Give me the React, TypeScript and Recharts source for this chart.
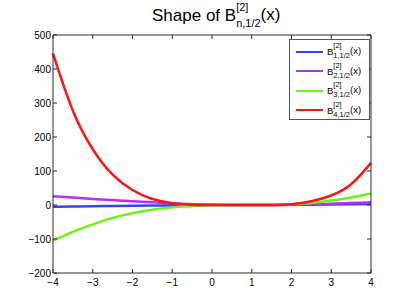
import React from 'react'
import { LineChart, Line, XAxis, YAxis, Legend } from 'recharts'

// sample positions along x
const xs = [-4, -3.5, -3, -2.5, -2, -1.5, -1, -0.5, 0, 0.5, 1, 1.5, 2, 2.5, 3, 3.5, 4]

// curves
const b1 = [-5, -4.3, -3.6, -2.8, -2.1, -1.5, -1, -0.5, -0.2, 0, 0, 0.2, 0.6, 1.1, 1.7, 2.4, 3.2]
const b2 = [26, 22, 18, 14.5, 11, 8, 5, 2.5, 1, 0.3, 0, 0.3, 1, 2.3, 3.8, 5.8, 8]
const b3 = [-105, -79, -57, -38, -24, -14, -7, -2.5, -0.5, 0, 0, 0.3, 2, 6, 13, 22, 34]
const b4 = [446, 277, 164, 89, 44, 17.5, 5.5, 1, 0, 0, 0, 0.3, 2.5, 11, 28, 61, 124]

const xTicks = [-4, -3, -2, -1, 0, 1, 2, 3, 4]
const yTicks = [-200, -100, 0, 100, 200, 300, 400, 500]

const seriesNames = ['1,1/2', '2,1/2', '3,1/2', '4,1/2']
const seriesKeys = ['b1', 'b2', 'b3', 'b4']
const seriesColors = ['#2f43ff', '#b52ff5', '#6ef01a', '#ff1414']

const data = xs.map((x, i) => ({ x, b1: b1[i], b2: b2[i], b3: b3[i], b4: b4[i] }))

const FONT = '"Liberation Sans", Arial, Helvetica, sans-serif'
const AXIS = '#2b2b2b'
const TICK_LEN = 4

const fmt = (v: number) => (v < 0 ? `\u2212${Math.abs(v)}` : `${v}`)

function BottomTick(props: any) {
  const { x, y, payload } = props
  return (
    <g>
      <line x1={x} x2={x} y1={y - 6} y2={y - 6 - TICK_LEN} stroke={AXIS} />
      <text x={x} y={y} dy={7} textAnchor="middle" fontSize={10} fontFamily={FONT} fill="#000">
        {fmt(payload.value)}
      </text>
    </g>
  )
}

function LeftTick(props: any) {
  const { x, y, payload } = props
  return (
    <g>
      <line x1={x + 2} x2={x + 2 + TICK_LEN} y1={y} y2={y} stroke={AXIS} />
      <text x={x} y={y} dy={3.5} textAnchor="end" fontSize={10} fontFamily={FONT} fill="#000">
        {fmt(payload.value)}
      </text>
    </g>
  )
}

function TopTick(props: any) {
  const { x, y } = props
  return <line x1={x} x2={x} y1={y} y2={y + TICK_LEN} stroke={AXIS} />
}

function RightTick(props: any) {
  const { x, y } = props
  return <line x1={x} x2={x - TICK_LEN} y1={y} y2={y} stroke={AXIS} />
}

function Label({ sub, big, small, gap }: { sub: string; big: number; small: number; gap: number }) {
  return (
    <span style={{ display: 'inline-flex', alignItems: 'center', fontFamily: FONT, color: '#000' }}>
      <span style={{ fontSize: big }}>B</span>
      <span
        style={{
          display: 'inline-flex',
          flexDirection: 'column',
          fontSize: small,
          lineHeight: `${gap}px`,
          position: 'relative',
          top: -0.5,
        }}
      >
        <span>[2]</span>
        <span>{sub}</span>
      </span>
      <span style={{ fontSize: big, position: 'relative', top: -1 }}>(x)</span>
    </span>
  )
}

function LegendBox() {
  return (
    <div
      style={{
        position: 'relative',
        width: 81,
        height: 81,
        boxSizing: 'border-box',
        border: '1px solid #555',
        background: '#fff',
      }}
    >
      {seriesNames.map((n, i) => (
        <div
          key={n}
          style={{
            position: 'absolute',
            left: 6,
            top: 2 + i * 19.5,
            height: 19.5,
            display: 'flex',
            alignItems: 'center',
          }}
        >
          <svg width={27} height={4} style={{ marginRight: 4 }}>
            <line x1={0} x2={27} y1={2} y2={2} stroke={seriesColors[i]} strokeWidth={2} />
          </svg>
          <Label sub={n} big={9.5} small={7.5} gap={10} />
        </div>
      ))}
    </div>
  )
}

export default function App() {
  return (
    <div style={{ position: 'absolute', left: 0, top: 0, width: 409, height: 307, background: '#fff' }}>
      <div
        style={{
          position: 'absolute',
          left: 152,
          top: 0,
          height: 31,
          display: 'flex',
          alignItems: 'center',
          fontFamily: FONT,
          whiteSpace: 'nowrap',
        }}
      >
        <span style={{ fontSize: 17 }}>Shape of&nbsp;</span>
        <Label sub="n,1/2" big={17} small={11} gap={16} />
      </div>
      <LineChart width={409} height={307} data={data} margin={{ top: 25, right: 28, bottom: 0, left: 0 }}>
        <XAxis
          xAxisId="b"
          dataKey="x"
          type="number"
          domain={[-4, 4]}
          ticks={xTicks}
          height={34}
          tickSize={0}
          tickMargin={6}
          tickLine={false}
          tick={(p: any) => <BottomTick {...p} />}
          stroke={AXIS}
          interval={0}
        />
        <XAxis
          xAxisId="t"
          orientation="top"
          dataKey="x"
          type="number"
          domain={[-4, 4]}
          ticks={xTicks}
          height={10}
          tickSize={0}
          tickMargin={0}
          tickLine={false}
          tick={(p: any) => <TopTick {...p} />}
          stroke={AXIS}
          interval={0}
        />
        <YAxis
          yAxisId="l"
          type="number"
          domain={[-200, 500]}
          ticks={yTicks}
          width={53}
          tickSize={0}
          tickMargin={2}
          tickLine={false}
          tick={(p: any) => <LeftTick {...p} />}
          stroke={AXIS}
          interval={0}
          allowDataOverflow
        />
        <YAxis
          yAxisId="r"
          orientation="right"
          type="number"
          domain={[-200, 500]}
          ticks={yTicks}
          width={10}
          tickSize={0}
          tickMargin={0}
          tickLine={false}
          tick={(p: any) => <RightTick {...p} />}
          stroke={AXIS}
          interval={0}
          allowDataOverflow
        />
        <Legend
          layout="vertical"
          align="center"
          verticalAlign="middle"
          content={() => <LegendBox />}
          wrapperStyle={{ left: 289, top: 39, width: 81, height: 81 }}
        />
        {seriesKeys.map((k, i) => (
          <Line
            key={k}
            xAxisId="b"
            yAxisId="l"
            dataKey={k}
            type="natural"
            stroke={seriesColors[i]}
            strokeWidth={2.5}
            dot={false}
            isAnimationActive={false}
          />
        ))}
      </LineChart>
    </div>
  )
}
